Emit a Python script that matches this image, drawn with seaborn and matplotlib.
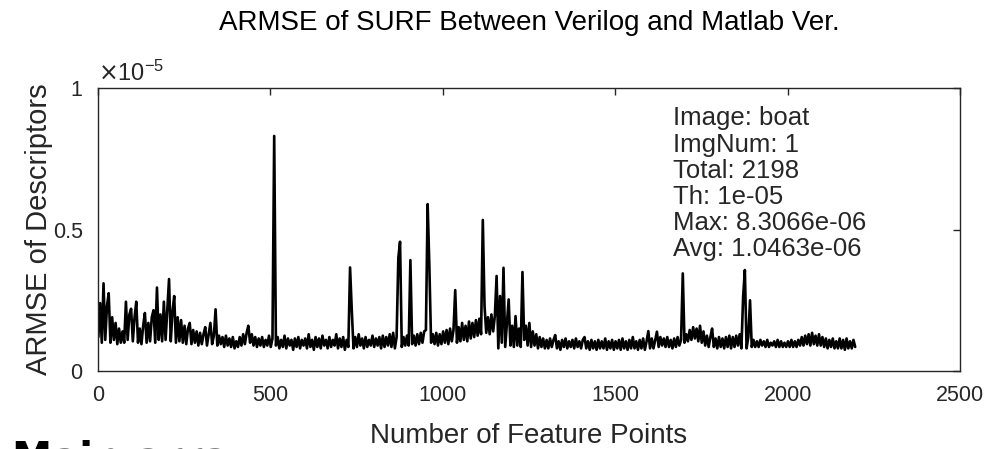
import numpy as np
import pandas as pd
import matplotlib
matplotlib.use("Agg")
import matplotlib.pyplot as plt
import seaborn as sns

# ---- data (ARMSE values in units of 1e-6, one sample every 5 feature points) ----
start_point = 1
point_step = 5
armse_e6 = [
    1.2, 2.4, 1.0, 3.1, 1.1, 2.3, 2.75, 1.0, 1.9, 1.1, 1.7, 0.95, 1.5, 1.0, 1.4, 1.0, 2.45, 1.1, 2.0, 2.2,
    1.05, 1.9, 2.45, 1.0, 1.5, 0.95, 1.6, 2.05, 1.0, 1.7, 1.05, 1.9, 2.15, 1.0, 2.95, 1.1, 2.0, 1.05, 2.45, 1.1,
    2.2, 3.25, 1.05, 2.1, 2.65, 1.0, 1.9, 1.05, 1.8, 1.0, 1.6, 0.95, 1.5, 1.7, 0.95, 1.45, 1.0, 1.4, 0.9, 1.35,
    0.95, 1.3, 1.55, 0.9, 1.3, 1.7, 0.95, 1.25, 2.18, 0.9, 1.25, 0.95, 1.2, 0.85, 1.25, 0.9, 1.15, 0.85, 1.2, 0.8,
    1.05, 0.85, 1.2, 0.9, 1.3, 0.95, 1.35, 1.6, 1.0, 1.3, 0.9, 1.2, 0.85, 1.15, 0.9, 1.2, 0.85, 1.1, 0.9, 1.25,
    0.85, 1.15, 8.31, 0.9, 1.2, 0.8, 1.1, 0.85, 1.25, 0.8, 1.15, 0.9, 1.1, 0.75, 1.15, 0.85, 1.2, 0.8, 1.1, 0.9,
    1.15, 0.8, 1.3, 0.85, 1.1, 0.75, 1.2, 0.85, 1.15, 0.8, 1.25, 0.9, 1.1, 0.8, 1.2, 0.85, 1.1, 0.9, 1.3, 0.8,
    1.15, 0.85, 1.2, 0.75, 1.1, 0.85, 3.66, 2.15, 0.8, 1.2, 0.85, 1.3, 0.9, 1.15, 0.8, 1.2, 0.85, 1.1, 0.9, 1.25,
    0.85, 1.15, 0.9, 1.2, 0.8, 1.25, 0.85, 1.2, 0.9, 1.3, 0.85, 1.35, 0.8, 1.2, 4.0, 4.57, 0.85, 1.2, 0.9, 1.25,
    0.9, 3.92, 0.95, 1.25, 0.9, 1.3, 0.95, 1.35, 1.0, 1.4, 1.45, 5.9, 3.7, 1.0, 1.3, 0.95, 1.35, 0.9, 1.3, 0.95,
    1.4, 1.0, 1.45, 0.95, 1.5, 1.05, 1.45, 2.86, 1.0, 1.55, 1.05, 1.7, 1.1, 1.6, 1.05, 1.75, 1.15, 1.7, 1.2, 1.8,
    1.25, 1.85, 1.3, 5.34, 2.3, 1.35, 1.9, 1.3, 2.0, 1.4, 1.95, 3.36, 0.8, 2.65, 1.0, 3.65, 0.85, 1.7, 2.53, 0.9,
    1.6, 0.85, 1.94, 0.9, 1.5, 0.85, 3.5, 1.1, 1.6, 0.9, 1.7, 0.85, 1.4, 0.9, 1.3, 0.8, 1.2, 0.85, 1.15, 0.8,
    1.1, 0.8, 1.15, 0.85, 1.1, 1.27, 0.8, 1.05, 0.75, 1.1, 0.85, 1.15, 0.8, 1.05, 0.85, 1.1, 0.8, 1.15, 0.85, 1.05,
    0.8, 1.1, 1.2, 0.8, 1.05, 0.75, 1.1, 0.8, 1.05, 0.75, 1.1, 0.8, 1.05, 0.8, 1.15, 0.75, 1.05, 0.8, 1.1, 0.75,
    1.05, 0.8, 1.1, 0.75, 1.15, 0.8, 1.05, 0.75, 1.1, 0.8, 1.2, 0.8, 1.05, 0.75, 1.1, 0.8, 1.15, 0.75, 1.05, 1.41,
    0.8, 1.15, 0.8, 1.1, 1.39, 0.85, 1.2, 0.9, 1.15, 0.85, 1.2, 0.85, 1.1, 0.8, 1.15, 0.85, 1.2, 0.9, 1.1, 3.45,
    1.0, 1.3, 1.05, 1.45, 1.1, 1.55, 1.15, 1.5, 1.05, 1.6, 1.0, 1.4, 0.9, 1.25, 0.85, 1.2, 1.5, 0.85, 1.15, 0.8,
    1.2, 0.85, 1.15, 0.8, 1.2, 0.85, 1.25, 0.8, 1.2, 0.85, 1.25, 0.9, 1.3, 0.8, 2.63, 3.57, 0.8, 1.2, 2.5, 0.85,
    1.1, 0.85, 1.05, 0.85, 1.1, 0.9, 1.05, 0.85, 1.1, 0.85, 1.0, 0.9, 1.05, 0.85, 1.1, 0.85, 1.05, 0.85, 1.0, 0.85,
    1.05, 0.85, 1.1, 0.85, 1.05, 0.85, 1.1, 0.9, 1.2, 0.9, 1.25, 0.95, 1.3, 0.9, 1.35, 0.95, 1.25, 0.9, 1.3, 0.9,
    1.2, 0.85, 1.15, 0.8, 1.1, 0.85, 1.15, 0.8, 1.05, 0.8, 1.15, 0.8, 1.1, 0.75, 1.15, 0.8, 1.05, 0.8, 1.1, 0.85,
]
x_ticks = [0, 500, 1000, 1500, 2000, 2500]
y_ticks = [0, 0.5, 1]
y_tick_labels = ["0", "0.5", "1"]
info_lines = ["Image: boat", "ImgNum: 1", "Total: 2198", "Th: 1e-05",
              "Max: 8.3066e-06", "Avg: 1.0463e-06"]
title_text = "ARMSE of SURF Between Verilog and Matlab Ver."
x_label = "Number of Feature Points"
y_label = "ARMSE of Descriptors"
footer_text = "Main array"

points = start_point + point_step * np.arange(len(armse_e6))
df = pd.DataFrame({"point": points, "armse_1e5": np.array(armse_e6) / 10.0})

sns.set_theme(style="white")
plt.rcParams["font.family"] = ["Liberation Sans", "DejaVu Sans"]
gray = "#262626"

fig = plt.figure(figsize=(9.97, 4.49), dpi=100)
ax = fig.add_axes([0.0983, 0.1737, 0.8646, 0.630])
sns.lineplot(data=df, x="point", y="armse_1e5", color="black", linewidth=1.9,
             ax=ax, sort=False)

ax.set_xlim(0, 2500)
ax.set_ylim(0, 1)
ax.set_xticks(x_ticks)
ax.set_xticklabels([str(t) for t in x_ticks])
ax.set_yticks(y_ticks)
ax.set_yticklabels(y_tick_labels)
ax.tick_params(direction="in", length=5, width=1.0, colors=gray, labelsize=15.5,
               top=True, right=True, labelcolor=gray)
ax.tick_params(axis="x", pad=10)
ax.tick_params(axis="y", pad=11)
for s in ax.spines.values():
    s.set_color(gray)
    s.set_linewidth(1.0)
    s.set_visible(True)

ax.set_xlabel(x_label, fontsize=20, color=gray, labelpad=12)
ax.set_ylabel(y_label, fontsize=21, color=gray, labelpad=0)
ax.set_title(title_text, fontsize=20, color="black", pad=42)

ax.text(0.0, 1.008, r"$\times\mathregular{10^{-5}}$", transform=ax.transAxes,
        fontsize=17, color=gray, ha="left", va="bottom")

for k, line in enumerate(info_lines):
    ax.text(0.6665, 0.893 - k * 0.0925, line, transform=ax.transAxes,
            fontsize=18.5, color=gray, ha="left", va="center")

fig.text(0.012, -0.049, footer_text, fontsize=29, fontweight="bold",
         family=["DejaVu Sans"], color="black", ha="left", va="baseline")

fig.savefig("out.png", dpi=100)
